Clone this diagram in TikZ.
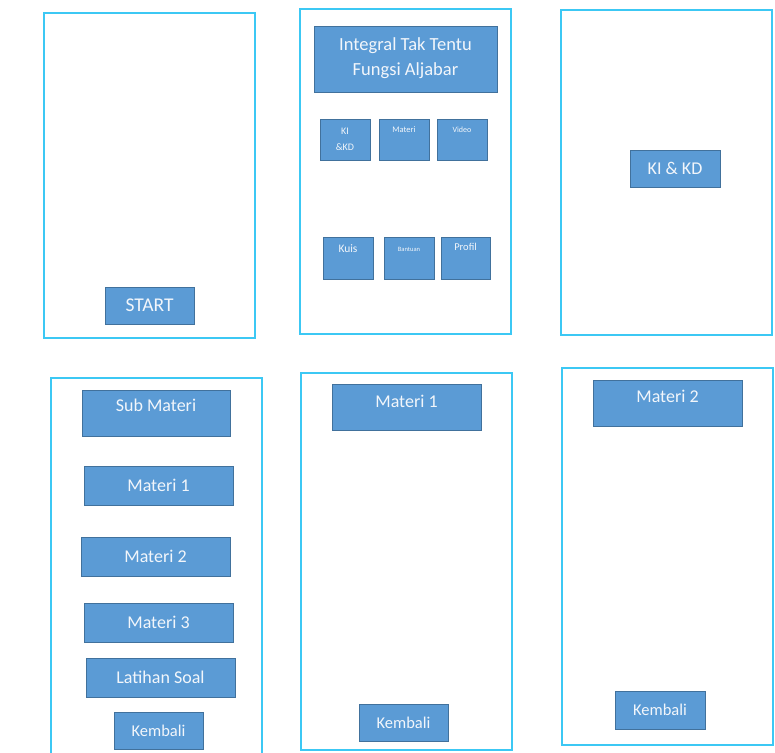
\documentclass[tikz,border=0pt]{standalone}
\usepackage{fontspec}
\setmainfont{Carlito}
\definecolor{boxblue}{HTML}{5B9BD5}
\definecolor{boxedge}{HTML}{41719C}
\definecolor{framecyan}{HTML}{3CC8F4}
\definecolor{btntext}{HTML}{F2F6FB}
\tikzset{
  screen/.style={draw=framecyan, line width=1.5pt},
  btn/.style={draw=boxedge, fill=boxblue, line width=1pt, inner sep=0pt, text=btntext, align=center},
  toplab/.style={text=btntext, inner sep=0pt, anchor=north}
}
\begin{document}
\begin{tikzpicture}[x=1pt,y=-1pt]
\useasboundingbox (0,0) rectangle (775,752);
\fill[white] (0,0) rectangle (775,752);
% screens
\draw[screen] (44,13) rectangle (255,338);
\draw[screen] (300,9) rectangle (511,334);
\draw[screen] (561,10) rectangle (772,335);
\draw[screen] (51,378) rectangle (262,758);
\draw[screen] (301,373) rectangle (512,750);
\draw[screen] (562,368) rectangle (773,745);
% screen 1
\node[btn, minimum width=89pt, minimum height=37pt, font=\fontsize{19.5}{22}\selectfont] (start) at (149.5,305.5) {START};
% screen 2
\node[btn, minimum width=183pt, minimum height=65pt, label={[toplab, yshift=-11pt, align=center, font=\fontsize{18.5}{25}\selectfont]north:Integral Tak Tentu\\Fungsi Aljabar}] (title) at (405.5,59.5) {};
\node[btn, minimum width=50pt, minimum height=41pt, font=\fontsize{10}{16}\selectfont] (kikd) at (345,139.5) {KI\\\&KD};
\node[btn, minimum width=50pt, minimum height=41pt, label={[toplab, yshift=-8pt, font=\fontsize{8.5}{9}\selectfont]north:Materi}] (materi) at (404,139.5) {};
\node[btn, minimum width=50pt, minimum height=41pt, label={[toplab, yshift=-8pt, font=\fontsize{8}{9}\selectfont]north:Video}] (video) at (462,139.5) {};
\node[btn, minimum width=50pt, minimum height=42pt, label={[toplab, yshift=-8pt, font=\fontsize{11.5}{12}\selectfont]north:Kuis}] (kuis) at (348,258) {};
\node[btn, minimum width=50pt, minimum height=42pt, label={[toplab, yshift=-10.5pt, font=\fontsize{6.5}{7}\selectfont]north:Bantuan}] (bantuan) at (409,258) {};
\node[btn, minimum width=49pt, minimum height=42pt, label={[toplab, yshift=-7pt, font=\fontsize{10.5}{11}\selectfont]north:Profil}] (profil) at (465.5,258) {};
% screen 3
\node[btn, minimum width=90pt, minimum height=37pt, font=\fontsize{18}{21}\selectfont] (kikd2) at (675,168.5) {KI \& KD};
% screen 4
\node[btn, minimum width=148pt, minimum height=46pt, label={[toplab, yshift=-9pt, font=\fontsize{18}{21}\selectfont]north:Sub Materi}] (sub) at (156,413) {};
\node[btn, minimum width=149pt, minimum height=39pt, font=\fontsize{18}{21}\selectfont] (m1) at (158.5,485.5) {Materi 1};
\node[btn, minimum width=149pt, minimum height=39pt, font=\fontsize{18}{21}\selectfont] (m2) at (155.5,556.5) {Materi 2};
\node[btn, minimum width=149pt, minimum height=39pt, font=\fontsize{18}{21}\selectfont] (m3) at (158.5,622.5) {Materi 3};
\node[btn, minimum width=149pt, minimum height=39pt, font=\fontsize{18}{21}\selectfont] (latihan) at (160.5,677.5) {Latihan Soal};
\node[btn, minimum width=89pt, minimum height=37pt, font=\fontsize{16.5}{19}\selectfont] (kembali1) at (158.5,730.5) {Kembali};
% screen 5
\node[btn, minimum width=149pt, minimum height=46pt, label={[toplab, yshift=-11pt, font=\fontsize{18}{21}\selectfont]north:Materi 1}] (m1b) at (406.5,407) {};
\node[btn, minimum width=89pt, minimum height=37pt, font=\fontsize{16.5}{19}\selectfont] (kembali2) at (403.5,722.5) {Kembali};
% screen 6
\node[btn, minimum width=149pt, minimum height=46pt, label={[toplab, yshift=-10pt, font=\fontsize{18}{21}\selectfont]north:Materi 2}] (m2b) at (667.5,403) {};
\node[btn, minimum width=90pt, minimum height=38pt, font=\fontsize{16.5}{19}\selectfont] (kembali3) at (660,710) {Kembali};
\end{tikzpicture}
\end{document}
